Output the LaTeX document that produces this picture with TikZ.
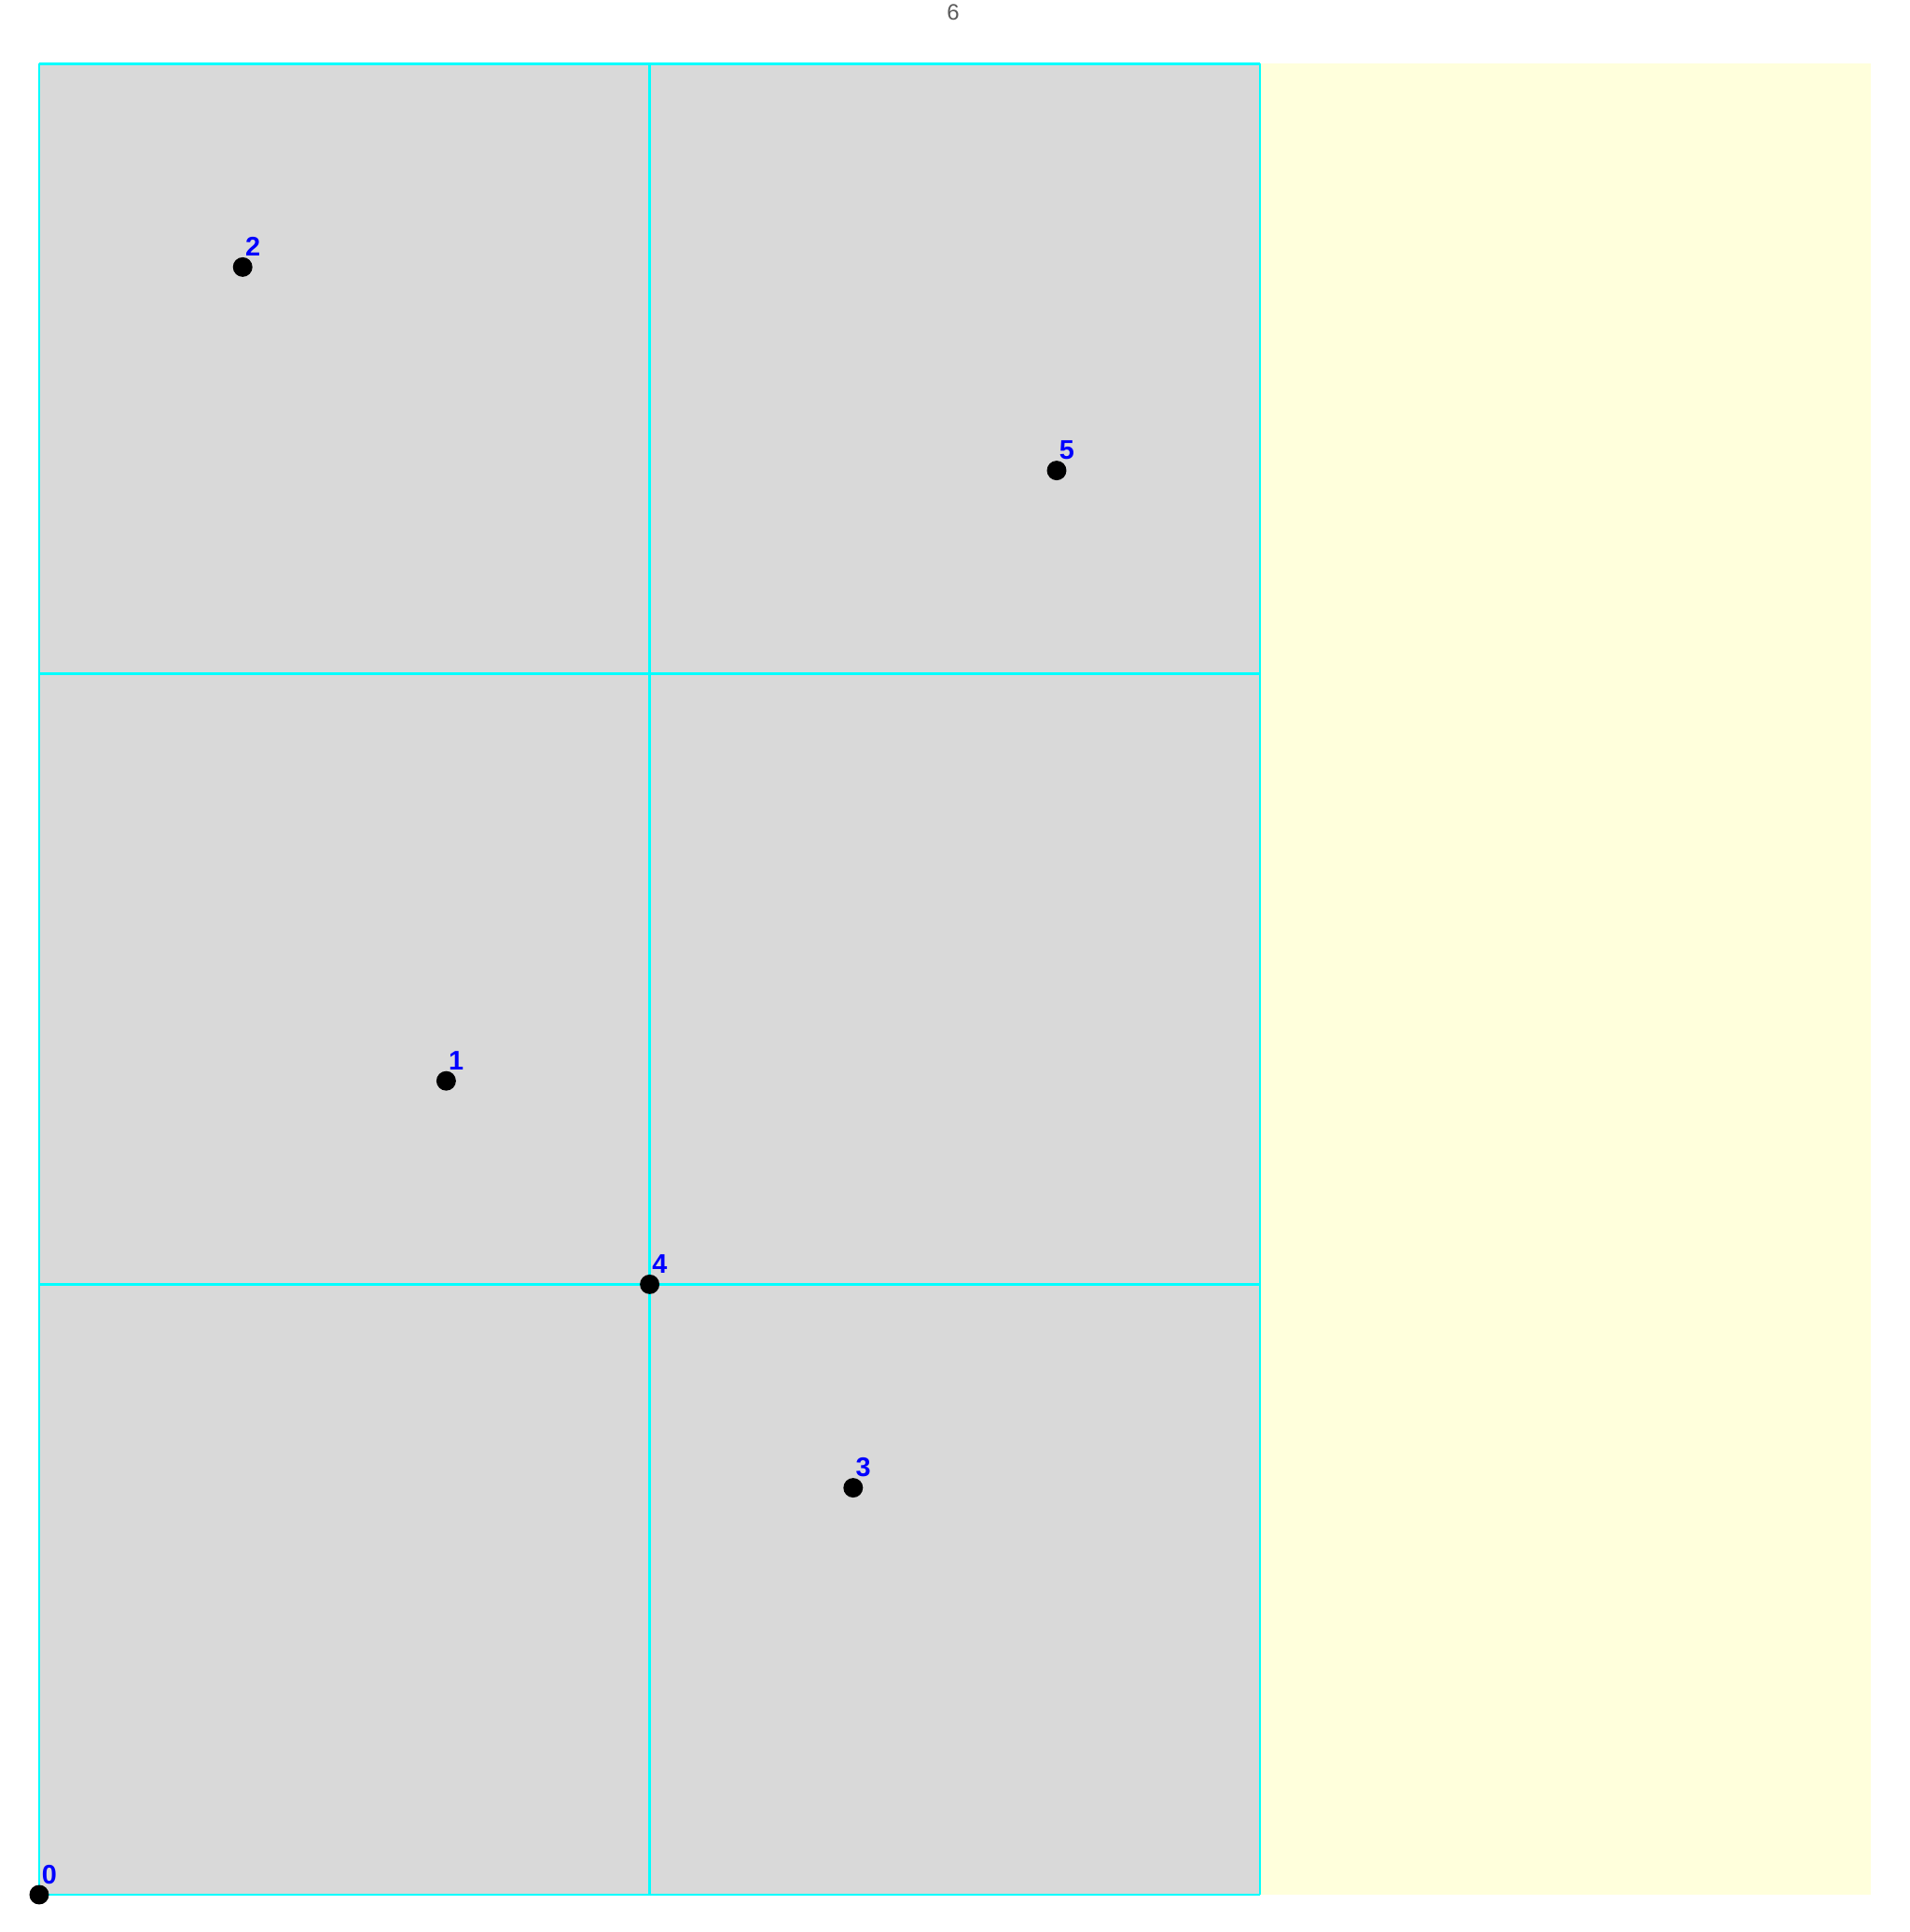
\documentclass[tikz,border=0pt]{standalone}
\usepackage{fontspec}
\setmainfont{Liberation Sans}
\usepackage{tikz}
\definecolor{cellgray}{RGB}{217,217,217}
\definecolor{padyellow}{RGB}{255,255,220}
\definecolor{titlegray}{RGB}{90,90,90}
\definecolor{gridcyan}{RGB}{0,255,255}
\definecolor{labelblue}{RGB}{0,0,255}

\begin{document}
\begin{tikzpicture}[x=2.5cm,y=2.5cm,
    pt/.style={circle,fill=black,inner sep=0pt,minimum size=0.24cm},
    ptlabel/.style={anchor=south west,inner sep=0pt,text=labelblue,font=\fontsize{9.4}{10}\selectfont\bfseries},
    gridline/.style={gridcyan,line width=0.85pt}]
  \useasboundingbox (-0.1925,-0.1833) rectangle (9.193,9.3126);
  % regions
  \fill[padyellow] (6,0) rectangle (9,9);
  \fill[cellgray] (0,0) rectangle (6,9);
  \draw[gridline] (0,0) grid[step=3] (6,9);
  \node[text=titlegray,font=\fontsize{7.8}{9}\selectfont] (title) at (4.491,9.251) {6};
  % points
  \foreach \n/\px/\py in {0/0/0,1/2/4,2/1/8,3/4/2,4/3/3,5/5/7} {
    \node[pt] (p\n) at (\px,\py) {};
    \node[ptlabel] (l\n) at ([shift={(0.01,0.05)}]p\n.center) {\n};
  }
\end{tikzpicture}
\end{document}
